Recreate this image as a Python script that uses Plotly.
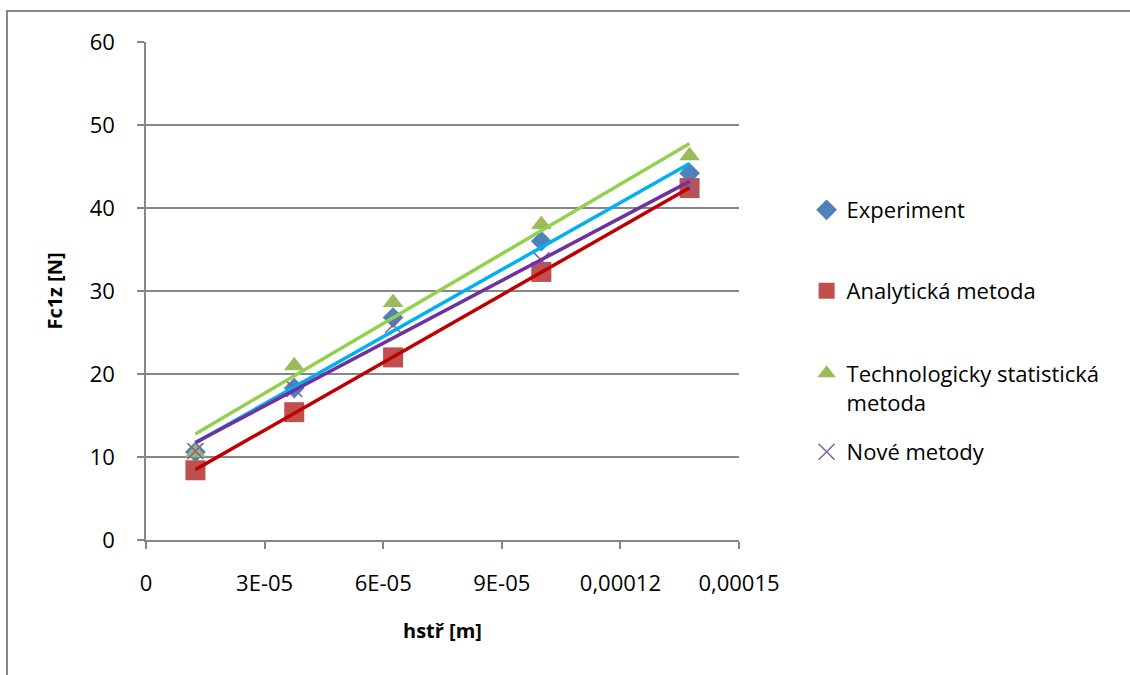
import numpy as np
import plotly.graph_objects as go

# cutting depth h_str [m] and measured / computed force Fc1z [N]
h_str = [1.25e-05, 3.75e-05, 6.25e-05, 1.0e-04, 1.375e-04]
experiment = [10.6, 18.3, 26.8, 36.0, 44.2]
analyticka = [8.4, 15.4, 22.0, 32.3, 42.4]
technologicka = [10.5, 21.0, 28.6, 38.0, 46.3]
nove = [10.7, 18.2, 25.9, 33.7, 42.6]

names = ["Experiment", "Analytická metoda",
         "Technologicky statistická<br>metoda", "Nové metody"]

x_tickvals = [0, 3e-05, 6e-05, 9e-05, 0.00012, 0.00015]
x_ticktext = ["0", "3E-05", "6E-05", "9E-05", "0,00012", "0,00015"]
y_tickvals = [0, 10, 20, 30, 40, 50, 60]

FONT = "Open Sans"
GRID = "#868686"

series = [
    dict(y=experiment, symbol="diamond", size=16, color="#4F81BD", trend="#00B0F0"),
    dict(y=analyticka, symbol="square", size=20, color="#C0504D", trend="#C00000"),
    dict(y=technologicka, symbol="triangle-up", size=18, color="#9BBB59", trend="#92D050"),
    dict(y=nove, symbol="x-thin", size=16, color="#8064A2", trend="#7030A0"),
]

fig = go.Figure()
xs = np.array(h_str)

# markers first
legend_ids = ["legend", "legend2", "legend3", "legend4"]
for s, name, lg in zip(series, names, legend_ids):
    marker = dict(symbol=s["symbol"], size=s["size"], color=s["color"])
    if s["symbol"] == "x-thin":
        marker["line"] = dict(color=s["color"], width=1.6)
    fig.add_trace(go.Scatter(x=h_str, y=s["y"], mode="markers", name=name,
                             marker=marker, legend=lg))

# linear trendlines on top of the markers
for s in series:
    k, q = np.polyfit(xs, np.array(s["y"]), 1)
    xt = np.array([xs.min(), xs.max()])
    fig.add_trace(go.Scatter(x=xt, y=k * xt + q, mode="lines",
                             line=dict(color=s["trend"], width=3.5),
                             showlegend=False, hoverinfo="skip"))

leg_common = dict(font=dict(family=FONT, size=22, color="#000000"),
                  bgcolor="rgba(0,0,0,0)", xanchor="left", yanchor="middle",
                  valign="top", itemwidth=30)
leg_x = 1.114
fig.update_layout(
    width=1130, height=675,
    margin=dict(l=146, r=391, t=42, b=135),
    paper_bgcolor="white", plot_bgcolor="white",
    font=dict(family=FONT, size=22, color="#000000"),
    legend=dict(x=leg_x, y=0.6627, **leg_common),
    legend2=dict(x=leg_x, y=0.500, **leg_common),
    legend3=dict(x=leg_x, y=0.3052, **leg_common),
    legend4=dict(x=leg_x, y=0.1767, **leg_common),
    xaxis=dict(range=[0, 0.00015], tickvals=x_tickvals, ticktext=x_ticktext,
               showgrid=False, zeroline=False, showline=True, linecolor=GRID,
               linewidth=1.5, ticks="outside", ticklen=7, tickcolor=GRID,
               tickwidth=1.5, ticklabelstandoff=16,
               tickfont=dict(family=FONT, size=22),
               title=dict(text="<b>hstř [m]</b>", standoff=28,
                          font=dict(family=FONT, size=20))),
    yaxis=dict(range=[0, 60], tickvals=y_tickvals, showgrid=True,
               gridcolor=GRID, gridwidth=1.5, zeroline=False, showline=True,
               linecolor=GRID, linewidth=1.5, ticks="outside", ticklen=7,
               tickcolor=GRID, tickwidth=1.5, ticklabelstandoff=18,
               tickfont=dict(family=FONT, size=22),
               title=dict(text="<b>Fc1z [N]</b>", standoff=22,
                          font=dict(family=FONT, size=20))),
)

# outer chart frame (its right and bottom edges fall outside the page)
fig.add_shape(type="rect", xref="paper", yref="paper",
              x0=(7 - 146) / 593, x1=(1140 - 146) / 593,
              y0=(540 - 690) / 498, y1=(540 - 11) / 498,
              line=dict(color=GRID, width=2), layer="below")

fig.write_html("out.html")
